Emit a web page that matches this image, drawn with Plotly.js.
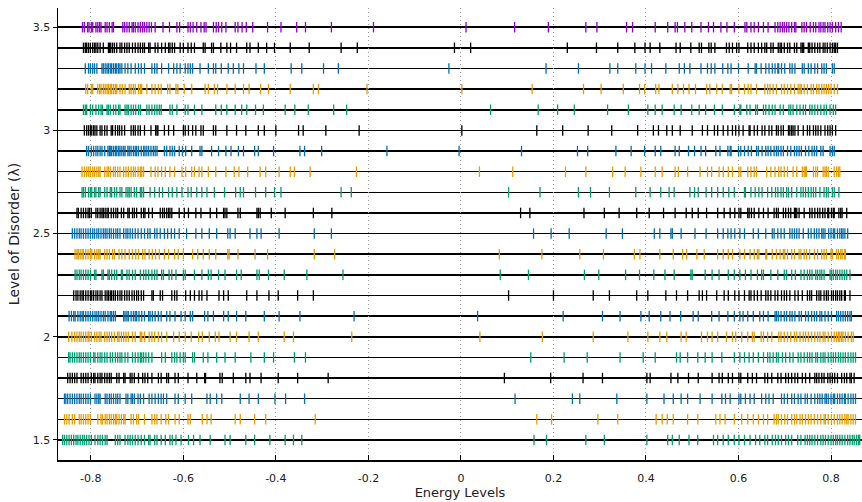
<!DOCTYPE html>
<html>
<head>
<meta charset="utf-8">
<script src="https://cdn.plot.ly/plotly-3.0.1.min.js"></script>
<style>html,body{margin:0;padding:0;background:#fff;}#chart{width:862px;height:502px;}</style>
</head>
<body>
<div id="chart"></div>
<script>
// Disorder levels (lambda) for each row
const lambdas = [1.5,1.6,1.7,1.8,1.9,2.0,2.1,2.2,2.3,2.4,2.5,2.6,2.7,2.8,2.9,3.0,3.1,3.2,3.3,3.4,3.5];
const rowColors = ['#009E73','#E69F00','#0072B2','#000000','#009E73','#E69F00','#0072B2','#000000','#009E73','#E69F00','#0072B2','#000000','#009E73','#E69F00','#0072B2','#000000','#009E73','#E69F00','#0072B2','#000000','#9400D3'];

// Energy levels, one array per lambda
const E_1_5 = [-0.861,-0.857,-0.852,-0.847,-0.842,-0.837,-0.832,-0.828,-0.823,-0.818,-0.814,-0.809,-0.804,-0.799,-0.791,-0.785,-0.780,-0.775,-0.769,-0.765,-0.747,-0.742,-0.737,-0.726,-0.720,-0.715,-0.710,-0.704,-0.698,-0.691,-0.684,-0.675,-0.672,-0.662,-0.657,-0.648,-0.639,-0.629,-0.624,-0.616,-0.605,-0.589,-0.578,-0.564,-0.542,-0.510,-0.499,-0.465,-0.446,-0.413,-0.380,-0.362,-0.344,
0.158,0.185,0.270,
0.310,0.402,0.447,0.457,0.472,0.493,0.512,0.546,0.555,0.567,0.578,0.591,0.601,0.613,0.625,0.637,0.646,0.657,0.663,0.673,0.680,0.686,0.693,0.702,0.708,0.715,0.728,0.735,0.744,0.749,0.754,0.759,0.765,0.771,0.778,0.783,0.788,0.794,0.800,0.805,0.810,0.814,0.819,0.824,0.830,0.836,0.841,0.846,0.850,0.855,0.859,0.862];
const E_1_6 = [-0.857,-0.852,-0.847,-0.840,-0.835,-0.825,-0.821,-0.816,-0.811,-0.806,-0.801,-0.785,-0.778,-0.775,-0.769,-0.765,-0.760,-0.756,-0.751,-0.747,-0.744,-0.739,-0.734,-0.729,-0.726,-0.713,-0.708,-0.701,-0.697,-0.684,-0.668,-0.662,-0.657,-0.648,-0.638,-0.632,-0.618,-0.609,-0.590,-0.585,-0.559,-0.549,-0.540,-0.488,-0.477,-0.446,-0.422,-0.315,
0.164,0.196,0.296,
0.339,0.422,0.435,0.446,0.459,0.490,0.512,0.551,0.560,0.571,0.591,0.607,0.620,0.632,0.643,0.654,0.663,0.677,0.682,0.686,0.693,0.700,0.706,0.715,0.721,0.726,0.733,0.738,0.745,0.751,0.757,0.764,0.771,0.778,0.785,0.788,0.794,0.801,0.807,0.814,0.819,0.824,0.830,0.834,0.837,0.843,0.848,0.853];
const E_1_7 = [-0.857,-0.854,-0.850,-0.845,-0.840,-0.835,-0.830,-0.825,-0.821,-0.816,-0.811,-0.806,-0.801,-0.791,-0.787,-0.783,-0.780,-0.769,-0.765,-0.760,-0.756,-0.751,-0.746,-0.742,-0.737,-0.724,-0.720,-0.713,-0.710,-0.706,-0.698,-0.693,-0.686,-0.674,-0.668,-0.661,-0.654,-0.648,-0.643,-0.636,-0.618,-0.611,-0.596,-0.582,-0.549,-0.542,-0.528,-0.517,-0.477,-0.458,-0.438,-0.402,-0.379,-0.338,
0.117,0.241,0.257,
0.337,0.402,0.439,0.459,0.476,0.490,0.517,0.543,0.564,0.572,0.582,0.601,0.605,0.615,0.625,0.634,0.650,0.659,0.666,0.675,0.693,0.699,0.706,0.715,0.721,0.729,0.735,0.744,0.749,0.757,0.765,0.771,0.776,0.781,0.787,0.790,0.794,0.800,0.805,0.808,0.814,0.819,0.824,0.829,0.831,0.837,0.843,0.848,0.853];
const E_1_8 = [-0.850,-0.845,-0.840,-0.835,-0.830,-0.821,-0.816,-0.811,-0.806,-0.799,-0.794,-0.791,-0.785,-0.780,-0.776,-0.770,-0.765,-0.760,-0.756,-0.744,-0.739,-0.729,-0.726,-0.715,-0.711,-0.706,-0.697,-0.688,-0.683,-0.677,-0.668,-0.654,-0.648,-0.636,-0.632,-0.618,-0.611,-0.590,-0.571,-0.554,-0.552,-0.521,-0.516,-0.492,-0.465,-0.456,-0.432,-0.395,-0.353,-0.287,
0.094,0.194,0.264,
0.306,0.402,0.409,0.454,0.469,0.492,0.513,0.543,0.558,0.565,0.578,0.587,0.601,0.605,0.620,0.630,0.639,0.657,0.663,0.672,0.685,0.692,0.702,0.708,0.715,0.722,0.728,0.738,0.745,0.754,0.765,0.769,0.774,0.780,0.785,0.793,0.798,0.803,0.808,0.814,0.823,0.829,0.834,0.841,0.844,0.850];
const E_1_9 = [-0.848,-0.845,-0.840,-0.835,-0.830,-0.825,-0.821,-0.816,-0.811,-0.806,-0.801,-0.794,-0.791,-0.785,-0.780,-0.776,-0.770,-0.765,-0.758,-0.753,-0.747,-0.742,-0.737,-0.733,-0.726,-0.720,-0.710,-0.704,-0.698,-0.693,-0.690,-0.686,-0.681,-0.675,-0.668,-0.647,-0.639,-0.625,-0.619,-0.614,-0.607,-0.600,-0.596,-0.580,-0.576,-0.557,-0.547,-0.528,-0.510,-0.488,-0.454,-0.425,-0.405,-0.360,-0.336,
0.151,0.223,0.273,
0.344,0.394,0.420,0.466,0.474,0.490,0.512,0.528,0.543,0.564,0.591,0.603,0.613,0.623,0.632,0.643,0.654,0.663,0.668,0.675,0.682,0.686,0.695,0.702,0.711,0.718,0.729,0.735,0.742,0.749,0.754,0.759,0.767,0.771,0.778,0.783,0.787,0.794,0.800,0.805,0.810,0.816,0.821,0.826,0.831,0.837,0.843,0.848,0.853];
const E_2_0 = [-0.848,-0.841,-0.835,-0.830,-0.825,-0.821,-0.816,-0.811,-0.806,-0.804,-0.799,-0.792,-0.787,-0.782,-0.778,-0.770,-0.765,-0.760,-0.755,-0.749,-0.742,-0.739,-0.734,-0.729,-0.724,-0.719,-0.710,-0.704,-0.693,-0.690,-0.684,-0.674,-0.668,-0.662,-0.654,-0.647,-0.636,-0.621,-0.609,-0.596,-0.583,-0.567,-0.559,-0.544,-0.531,-0.523,-0.499,-0.485,-0.458,-0.438,-0.382,-0.362,
-0.236,0.041,0.176,0.286,
0.361,0.404,0.430,0.445,0.476,0.487,0.520,0.533,0.543,0.555,0.574,0.587,0.594,0.607,0.620,0.630,0.634,0.649,0.654,0.663,0.672,0.687,0.692,0.699,0.706,0.713,0.721,0.726,0.733,0.740,0.745,0.751,0.758,0.765,0.771,0.776,0.783,0.787,0.794,0.801,0.807,0.812,0.816,0.819,0.823,0.826,0.831,0.837,0.844,0.848];
const E_2_1 = [-0.847,-0.842,-0.837,-0.834,-0.828,-0.823,-0.819,-0.816,-0.811,-0.806,-0.801,-0.796,-0.791,-0.787,-0.783,-0.778,-0.773,-0.769,-0.763,-0.758,-0.755,-0.751,-0.747,-0.729,-0.726,-0.722,-0.719,-0.713,-0.708,-0.704,-0.701,-0.696,-0.690,-0.684,-0.675,-0.672,-0.667,-0.661,-0.654,-0.648,-0.636,-0.629,-0.618,-0.605,-0.596,-0.585,-0.580,-0.554,-0.547,-0.535,-0.513,-0.503,-0.485,-0.465,-0.425,-0.393,-0.348,
-0.231,0.036,0.221,
0.306,0.344,0.389,0.407,0.432,0.452,0.475,0.502,0.513,0.542,0.558,0.577,0.591,0.603,0.610,0.620,0.632,0.646,0.654,0.664,0.679,0.682,0.686,0.692,0.699,0.704,0.711,0.716,0.722,0.731,0.736,0.745,0.751,0.758,0.764,0.769,0.776,0.780,0.787,0.794,0.801,0.812,0.816,0.821,0.826,0.831,0.836,0.841,0.844];
const E_2_2 = [-0.837,-0.832,-0.828,-0.823,-0.819,-0.816,-0.811,-0.806,-0.801,-0.798,-0.794,-0.789,-0.785,-0.780,-0.776,-0.769,-0.765,-0.762,-0.758,-0.755,-0.751,-0.747,-0.742,-0.737,-0.733,-0.727,-0.722,-0.717,-0.711,-0.706,-0.701,-0.697,-0.691,-0.686,-0.668,-0.665,-0.650,-0.645,-0.625,-0.619,-0.614,-0.595,-0.585,-0.576,-0.566,-0.560,-0.549,-0.523,-0.513,-0.503,-0.463,-0.441,-0.415,-0.395,-0.353,-0.319,
0.103,0.200,0.286,
0.321,0.380,0.404,0.443,0.466,0.490,0.515,0.522,0.531,0.553,0.569,0.578,0.592,0.601,0.613,0.623,0.627,0.634,0.641,0.649,0.659,0.664,0.670,0.679,0.685,0.693,0.699,0.704,0.711,0.722,0.729,0.738,0.749,0.754,0.758,0.769,0.774,0.778,0.785,0.790,0.794,0.801,0.805,0.810,0.814,0.819,0.823,0.829,0.831,0.841];
const E_2_3 = [-0.834,-0.830,-0.825,-0.821,-0.816,-0.811,-0.806,-0.801,-0.792,-0.789,-0.776,-0.773,-0.763,-0.760,-0.755,-0.749,-0.744,-0.734,-0.732,-0.722,-0.717,-0.710,-0.704,-0.693,-0.686,-0.681,-0.675,-0.668,-0.662,-0.657,-0.647,-0.643,-0.631,-0.625,-0.616,-0.600,-0.596,-0.576,-0.560,-0.546,-0.540,-0.524,-0.510,-0.485,-0.475,-0.441,-0.436,-0.416,-0.382,-0.333,
-0.255,0.085,0.146,0.267,0.298,
0.356,0.386,0.417,0.441,0.461,0.497,0.500,0.528,0.543,0.558,0.578,0.591,0.603,0.615,0.627,0.641,0.650,0.654,0.670,0.685,0.699,0.704,0.715,0.723,0.735,0.742,0.749,0.754,0.759,0.767,0.771,0.776,0.780,0.785,0.798,0.801,0.805,0.810,0.814,0.819,0.824,0.829,0.834,0.841];
const E_2_4 = [-0.834,-0.830,-0.827,-0.823,-0.819,-0.816,-0.811,-0.806,-0.801,-0.798,-0.792,-0.787,-0.783,-0.780,-0.770,-0.765,-0.760,-0.753,-0.749,-0.739,-0.733,-0.726,-0.717,-0.710,-0.703,-0.697,-0.688,-0.683,-0.674,-0.667,-0.660,-0.652,-0.641,-0.632,-0.619,-0.611,-0.600,-0.580,-0.569,-0.557,-0.544,-0.530,-0.504,-0.501,-0.482,-0.445,-0.418,-0.317,
-0.273,0.083,0.175,0.257,
0.308,0.375,0.387,0.430,0.459,0.479,0.488,0.510,0.526,0.555,0.567,0.578,0.587,0.603,0.613,0.625,0.634,0.641,0.644,0.659,0.661,0.673,0.682,0.690,0.697,0.700,0.706,0.715,0.721,0.731,0.735,0.742,0.747,0.754,0.764,0.771,0.780,0.785,0.790,0.800,0.803,0.812,0.816,0.821,0.824,0.829,0.831];
const E_2_5 = [-0.840,-0.835,-0.830,-0.825,-0.821,-0.816,-0.811,-0.806,-0.801,-0.796,-0.792,-0.787,-0.783,-0.778,-0.773,-0.769,-0.765,-0.760,-0.756,-0.751,-0.746,-0.742,-0.737,-0.729,-0.724,-0.720,-0.715,-0.710,-0.704,-0.698,-0.691,-0.684,-0.677,-0.672,-0.662,-0.657,-0.650,-0.641,-0.634,-0.626,-0.619,-0.609,-0.593,-0.573,-0.560,-0.544,-0.528,-0.504,-0.499,-0.488,-0.456,-0.441,-0.432,-0.393,-0.317,
-0.280,0.157,0.195,0.234,
0.314,0.349,0.418,0.430,0.454,0.457,0.476,0.506,0.530,0.555,0.567,0.577,0.584,0.592,0.603,0.613,0.632,0.643,0.659,0.673,0.677,0.685,0.692,0.699,0.711,0.716,0.721,0.726,0.731,0.740,0.751,0.757,0.764,0.769,0.774,0.780,0.783,0.787,0.795,0.800,0.805,0.808,0.814,0.819,0.823,0.826,0.830,0.836];
const E_2_6 = [-0.830,-0.827,-0.821,-0.816,-0.811,-0.806,-0.803,-0.799,-0.789,-0.785,-0.780,-0.776,-0.773,-0.769,-0.765,-0.762,-0.756,-0.751,-0.746,-0.742,-0.734,-0.729,-0.720,-0.717,-0.710,-0.706,-0.701,-0.691,-0.686,-0.683,-0.675,-0.667,-0.650,-0.645,-0.641,-0.636,-0.632,-0.629,-0.625,-0.609,-0.598,-0.589,-0.573,-0.562,-0.542,-0.528,-0.513,-0.510,-0.506,-0.482,-0.477,-0.441,-0.438,-0.434,-0.410,-0.380,-0.319,
-0.279,0.129,0.149,0.266,
0.310,0.342,0.380,0.407,0.438,0.463,0.487,0.500,0.513,0.531,0.555,0.569,0.582,0.592,0.601,0.605,0.620,0.623,0.628,0.634,0.644,0.654,0.664,0.677,0.682,0.686,0.697,0.702,0.708,0.713,0.721,0.723,0.726,0.731,0.742,0.754,0.759,0.765,0.771,0.776,0.782,0.787,0.793,0.795,0.801,0.805,0.807,0.817,0.821,0.824,0.834];
const E_2_7 = [-0.819,-0.816,-0.812,-0.805,-0.801,-0.798,-0.792,-0.789,-0.783,-0.780,-0.770,-0.765,-0.758,-0.755,-0.749,-0.744,-0.737,-0.733,-0.724,-0.720,-0.717,-0.713,-0.706,-0.701,-0.693,-0.690,-0.686,-0.672,-0.662,-0.652,-0.645,-0.632,-0.624,-0.614,-0.603,-0.590,-0.583,-0.571,-0.560,-0.549,-0.533,-0.511,-0.487,-0.477,-0.470,-0.444,-0.422,-0.403,-0.389,
-0.259,-0.237,0.103,0.171,0.254,0.280,
0.321,0.378,0.409,0.432,0.450,0.461,0.495,0.505,0.513,0.530,0.542,0.555,0.567,0.579,0.591,0.613,0.615,0.627,0.636,0.644,0.651,0.663,0.672,0.680,0.685,0.692,0.697,0.704,0.708,0.715,0.726,0.735,0.740,0.745,0.751,0.757,0.762,0.767,0.776,0.785,0.790,0.794,0.803,0.807,0.817];
const E_2_8 = [-0.819,-0.814,-0.809,-0.805,-0.801,-0.796,-0.792,-0.787,-0.783,-0.780,-0.770,-0.765,-0.762,-0.758,-0.751,-0.747,-0.742,-0.737,-0.729,-0.724,-0.719,-0.713,-0.708,-0.704,-0.698,-0.693,-0.690,-0.686,-0.670,-0.661,-0.655,-0.647,-0.639,-0.629,-0.619,-0.603,-0.595,-0.582,-0.576,-0.566,-0.560,-0.546,-0.530,-0.508,-0.490,-0.480,-0.461,-0.434,-0.422,-0.393,-0.369,-0.360,-0.326,
-0.226,0.040,0.112,0.226,0.270,
0.328,0.355,0.389,0.420,0.435,0.463,0.470,0.490,0.517,0.533,0.542,0.558,0.567,0.578,0.587,0.601,0.605,0.620,0.627,0.634,0.639,0.661,0.670,0.679,0.687,0.692,0.699,0.706,0.718,0.726,0.738,0.742,0.745,0.747,0.762,0.767,0.771,0.783,0.787,0.790,0.794,0.807,0.812,0.816,0.819];
const E_2_9 = [-0.809,-0.805,-0.799,-0.794,-0.789,-0.785,-0.780,-0.776,-0.770,-0.763,-0.760,-0.758,-0.755,-0.751,-0.747,-0.744,-0.740,-0.737,-0.733,-0.729,-0.726,-0.720,-0.717,-0.713,-0.708,-0.704,-0.701,-0.697,-0.691,-0.686,-0.683,-0.679,-0.675,-0.670,-0.665,-0.661,-0.657,-0.641,-0.636,-0.629,-0.624,-0.619,-0.609,-0.602,-0.595,-0.582,-0.564,-0.560,-0.539,-0.524,-0.508,-0.497,-0.481,-0.470,-0.446,-0.438,-0.405,-0.348,-0.338,-0.301,
-0.160,-0.004,0.131,0.252,0.274,
0.335,0.368,0.397,0.420,0.432,0.463,0.472,0.492,0.505,0.519,0.529,0.551,0.560,0.577,0.582,0.584,0.600,0.605,0.613,0.621,0.628,0.639,0.643,0.651,0.659,0.664,0.670,0.677,0.682,0.686,0.692,0.697,0.706,0.713,0.721,0.726,0.731,0.736,0.745,0.752,0.759,0.764,0.769,0.778,0.783,0.798,0.803,0.807];
const E_3_0 = [-0.814,-0.809,-0.805,-0.801,-0.798,-0.794,-0.791,-0.787,-0.780,-0.776,-0.770,-0.765,-0.756,-0.753,-0.747,-0.742,-0.738,-0.733,-0.727,-0.713,-0.708,-0.704,-0.698,-0.693,-0.684,-0.670,-0.660,-0.657,-0.655,-0.641,-0.632,-0.621,-0.600,-0.596,-0.589,-0.580,-0.573,-0.562,-0.557,-0.535,-0.530,-0.506,-0.485,-0.465,-0.438,-0.425,-0.400,-0.351,-0.341,-0.292,
-0.220,0.002,0.164,0.220,0.275,
0.326,0.382,0.416,0.427,0.445,0.457,0.474,0.500,0.522,0.533,0.548,0.555,0.567,0.577,0.587,0.594,0.601,0.610,0.623,0.625,0.634,0.641,0.651,0.657,0.666,0.672,0.682,0.686,0.692,0.697,0.708,0.711,0.715,0.718,0.722,0.729,0.740,0.749,0.754,0.762,0.767,0.772,0.778,0.787,0.793,0.798,0.803,0.810];
const E_3_1 = [-0.816,-0.812,-0.809,-0.801,-0.796,-0.789,-0.783,-0.778,-0.775,-0.765,-0.762,-0.758,-0.751,-0.746,-0.740,-0.737,-0.726,-0.722,-0.719,-0.713,-0.708,-0.703,-0.697,-0.693,-0.679,-0.674,-0.668,-0.662,-0.657,-0.652,-0.648,-0.629,-0.624,-0.614,-0.596,-0.590,-0.576,-0.560,-0.530,-0.518,-0.506,-0.488,-0.474,-0.463,-0.444,-0.427,-0.380,-0.359,-0.330,
-0.275,-0.247,0.064,0.167,0.209,0.245,
0.317,0.362,0.404,0.420,0.435,0.461,0.476,0.499,0.515,0.529,0.548,0.565,0.591,0.603,0.605,0.618,0.625,0.637,0.641,0.654,0.659,0.666,0.673,0.679,0.690,0.697,0.709,0.713,0.718,0.726,0.733,0.740,0.745,0.754,0.759,0.765,0.771,0.778,0.785,0.790,0.798,0.805,0.810];
const E_3_2 = [-0.811,-0.807,-0.799,-0.796,-0.785,-0.781,-0.778,-0.773,-0.769,-0.765,-0.762,-0.758,-0.755,-0.751,-0.747,-0.744,-0.737,-0.732,-0.726,-0.717,-0.713,-0.708,-0.704,-0.697,-0.693,-0.690,-0.679,-0.668,-0.661,-0.654,-0.648,-0.634,-0.629,-0.616,-0.612,-0.598,-0.582,-0.553,-0.546,-0.533,-0.526,-0.506,-0.488,-0.470,-0.458,-0.433,-0.416,-0.369,-0.319,-0.308,
-0.203,0.002,0.154,0.265,
0.303,0.351,0.386,0.397,0.421,0.428,0.457,0.469,0.481,0.493,0.507,0.531,0.538,0.553,0.565,0.582,0.585,0.601,0.613,0.621,0.627,0.639,0.657,0.663,0.668,0.675,0.682,0.693,0.699,0.706,0.713,0.721,0.729,0.733,0.736,0.742,0.749,0.757,0.762,0.769,0.774,0.780,0.785,0.790,0.795,0.800,0.807,0.814];
const E_3_3 = [-0.812,-0.805,-0.801,-0.796,-0.792,-0.787,-0.776,-0.773,-0.769,-0.765,-0.762,-0.758,-0.755,-0.751,-0.747,-0.744,-0.740,-0.737,-0.733,-0.726,-0.720,-0.713,-0.704,-0.697,-0.691,-0.684,-0.668,-0.662,-0.657,-0.647,-0.632,-0.621,-0.614,-0.607,-0.596,-0.590,-0.585,-0.580,-0.564,-0.546,-0.535,-0.530,-0.518,-0.503,-0.492,-0.480,-0.470,-0.443,-0.425,-0.367,-0.344,-0.297,
-0.265,-0.026,0.184,0.254,
0.322,0.339,0.378,0.398,0.412,0.443,0.472,0.483,0.495,0.519,0.533,0.541,0.549,0.566,0.577,0.584,0.600,0.621,0.636,0.639,0.649,0.659,0.666,0.673,0.679,0.685,0.687,0.693,0.700,0.711,0.716,0.722,0.738,0.742,0.751,0.757,0.765,0.771,0.780,0.785,0.790,0.803,0.807];
const E_3_4 = [-0.816,-0.812,-0.809,-0.805,-0.801,-0.796,-0.792,-0.789,-0.785,-0.780,-0.773,-0.762,-0.760,-0.757,-0.753,-0.749,-0.744,-0.737,-0.733,-0.727,-0.722,-0.717,-0.710,-0.704,-0.698,-0.693,-0.688,-0.684,-0.675,-0.672,-0.661,-0.655,-0.647,-0.639,-0.632,-0.629,-0.624,-0.619,-0.607,-0.600,-0.590,-0.583,-0.576,-0.557,-0.553,-0.539,-0.535,-0.519,-0.506,-0.498,-0.485,-0.463,-0.456,-0.438,-0.420,-0.403,-0.369,-0.328,
-0.259,-0.224,-0.014,0.021,0.230,0.293,
0.339,0.376,0.398,0.409,0.430,0.465,0.474,0.497,0.515,0.520,0.536,0.541,0.549,0.574,0.580,0.587,0.596,0.601,0.620,0.627,0.634,0.643,0.650,0.657,0.661,0.670,0.675,0.686,0.690,0.693,0.699,0.706,0.711,0.721,0.726,0.735,0.738,0.741,0.751,0.754,0.759,0.765,0.771,0.776,0.783,0.787,0.792,0.798,0.803,0.807,0.810,0.814];
const E_3_5 = [-0.818,-0.814,-0.807,-0.804,-0.799,-0.796,-0.789,-0.785,-0.781,-0.778,-0.769,-0.765,-0.760,-0.754,-0.751,-0.731,-0.727,-0.722,-0.717,-0.711,-0.708,-0.704,-0.698,-0.693,-0.688,-0.684,-0.679,-0.674,-0.669,-0.661,-0.644,-0.630,-0.614,-0.608,-0.590,-0.585,-0.579,-0.571,-0.562,-0.555,-0.551,-0.535,-0.529,-0.524,-0.517,-0.508,-0.488,-0.482,-0.473,-0.464,-0.450,-0.418,-0.389,-0.355,-0.336,
-0.280,-0.189,0.011,0.116,0.189,0.270,0.294,
0.358,0.371,0.420,0.447,0.463,0.468,0.484,0.499,0.519,0.535,0.546,0.562,0.575,0.591,0.614,0.618,0.627,0.634,0.643,0.654,0.664,0.679,0.685,0.690,0.695,0.699,0.704,0.709,0.715,0.721,0.724,0.737,0.742,0.747,0.755,0.762,0.767,0.774,0.778,0.783,0.787,0.793,0.798,0.803,0.810,0.816,0.822];

const rows = [E_1_5,E_1_6,E_1_7,E_1_8,E_1_9,E_2_0,E_2_1,E_2_2,E_2_3,E_2_4,E_2_5,E_2_6,E_2_7,E_2_8,E_2_9,E_3_0,E_3_1,E_3_2,E_3_3,E_3_4,E_3_5];

const xTickVals = [-0.8,-0.6,-0.4,-0.2,0,0.2,0.4,0.6,0.8];
const xTickText = ['-0.8','-0.6','-0.4','-0.2','0','0.2','0.4','0.6','0.8'];
const yTickVals = [1.5,2,2.5,3,3.5];
const yTickText = ['1.5','2','2.5','3','3.5'];

const traces = rows.map((arr, i) => ({
  type: 'scatter',
  mode: 'markers',
  x: arr,
  y: arr.map(() => lambdas[i]),
  marker: {
    symbol: 'line-ns',
    size: 7.5,
    color: rowColors[i],
    line: {color: rowColors[i], width: 1.3}
  },
  hoverinfo: 'x+y',
  showlegend: false
}));

const fam = 'DejaVu Sans, Verdana, sans-serif';
const font = {family: fam, size: 11, color: '#222'};

const layout = {
  width: 862,
  height: 502,
  margin: {l: 58, r: 0, t: 8, b: 42},
  paper_bgcolor: '#fff',
  plot_bgcolor: '#fff',
  font: font,
  showlegend: false,
  xaxis: {
    range: [-0.871, 0.867],
    tickmode: 'array',
    tickvals: xTickVals,
    ticktext: xTickText,
    ticks: 'inside',
    ticklen: 5,
    tickcolor: '#000',
    tickwidth: 1,
    ticklabelstandoff: 7,
    showgrid: true,
    gridcolor: '#999',
    griddash: '1px,3px',
    gridwidth: 1,
    zeroline: false,
    showline: true,
    linecolor: '#000',
    linewidth: 1.5,
    mirror: false,
    title: {text: 'Energy Levels', font: {family: fam, size: 13, color: '#222'}, standoff: 2},
    tickfont: font
  },
  yaxis: {
    range: [1.403, 3.593],
    tickmode: 'array',
    tickvals: yTickVals,
    ticktext: yTickText,
    ticks: 'outside',
    ticklen: 4,
    tickcolor: '#000',
    showgrid: true,
    gridcolor: '#000',
    gridwidth: 1.5,
    zeroline: false,
    showline: true,
    linecolor: '#000',
    linewidth: 1.5,
    minor: {
      tickmode: 'array',
      tickvals: lambdas,
      showgrid: true,
      gridcolor: '#000',
      gridwidth: 1.5,
      ticks: ''
    },
    title: {text: 'Level of Disorder (λ)', font: {family: fam, size: 14, color: '#222'}, standoff: 10},
    tickfont: font
  }
};

Plotly.newPlot('chart', traces, layout, {staticPlot: true});
</script>
</body>
</html>
